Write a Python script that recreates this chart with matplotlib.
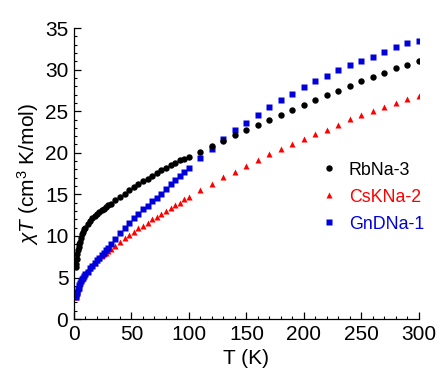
import matplotlib
matplotlib.use("Agg")
import matplotlib.pyplot as plt
from matplotlib.ticker import MultipleLocator

plt.rcParams['font.family'] = ['Liberation Sans', 'DejaVu Sans']
plt.rcParams['mathtext.fontset'] = 'custom'
plt.rcParams['mathtext.rm'] = 'Liberation Sans'
plt.rcParams['mathtext.it'] = 'Liberation Sans:italic'

T = [1.8, 2, 2.5, 3, 3.5, 4, 4.5, 5, 6, 7, 8, 9, 10, 12, 14, 16, 18, 20, 22, 24, 26, 28, 30,
     32, 36, 40, 44, 48, 52, 56, 60, 64, 68, 72, 76, 80, 84, 88, 92, 96, 100,
     110, 120, 130, 140, 150, 160, 170, 180, 190, 200, 210, 220, 230, 240,
     250, 260, 270, 280, 290, 300]

rbna3 = [6.3, 6.6, 7.2, 7.8, 8.3, 8.7, 9.0, 9.3, 9.8, 10.2, 10.5, 10.8, 11.0, 11.4, 11.8, 12.1,
         12.4, 12.6, 12.9, 13.1, 13.3, 13.5, 13.7,
         13.9, 14.3, 14.7, 15.1, 15.5, 15.9, 16.2, 16.6, 16.9, 17.2, 17.6,
         17.9, 18.2, 18.5, 18.8, 19.1, 19.3, 19.5,
         20.1, 20.8, 21.4, 22.1, 22.7, 23.4, 24.0, 24.6, 25.2, 25.7, 26.4,
         26.9, 27.4, 28.0, 28.6, 29.1, 29.6, 30.2, 30.6, 31.0]

cskna2 = [2.7, 2.9, 3.2, 3.4, 3.7, 3.9, 4.2, 4.4, 4.7, 5.0, 5.2, 5.4, 5.6, 5.9, 6.2, 6.5, 6.8,
          7.1, 7.3, 7.6, 7.8, 8.0, 8.2,
          8.4, 8.8, 9.3, 9.7, 10.1, 10.5, 10.9, 11.2, 11.6, 12.0, 12.3, 12.7,
          13.0, 13.4, 13.7, 14.0, 14.4, 14.7,
          15.5, 16.3, 17.1, 17.7, 18.4, 19.1, 19.9, 20.5, 21.1, 21.7, 22.3,
          22.8, 23.4, 24.1, 24.5, 25.0, 25.5, 26.0, 26.5, 26.8]

gndna1 = [2.7, 2.9, 3.1, 3.3, 3.6, 3.8, 4.1, 4.3, 4.6, 4.8, 5.0, 5.2, 5.4, 5.7, 6.1, 6.4, 6.8,
          7.1, 7.4, 7.7, 8.0, 8.3, 8.6,
          9.0, 9.6, 10.3, 11.0, 11.6, 12.2, 12.7, 13.2, 13.6, 14.2, 14.6,
          15.1, 15.6, 16.2, 16.7, 17.2, 17.7, 18.2,
          19.4, 20.5, 21.6, 22.7, 23.6, 24.6, 25.5, 26.4, 27.1, 27.9, 28.6,
          29.2, 29.9, 30.6, 31.0, 31.5, 32.1, 32.7, 33.2, 33.4]

labels = ["RbNa-3", "CsKNa-2", "GnDNa-1"]
colors = ["black", "red", "#0000dd"]

fig = plt.figure(figsize=(4.4, 3.79), dpi=100)
ax = fig.add_axes([0.168, 0.158, 0.784, 0.768])

ax.plot(T, rbna3, 'o', color=colors[0], ms=4.6, mec='none', label=labels[0], zorder=3)
ax.plot(T, cskna2, '^', color=colors[1], ms=5, mec='none', label=labels[1], zorder=2)
ax.plot(T, gndna1, 's', color=colors[2], ms=5, mec='none', label=labels[2], zorder=2)

ax.set_xlim(0, 300)
ax.set_ylim(0, 35)
ax.xaxis.set_major_locator(MultipleLocator(50))
ax.xaxis.set_minor_locator(MultipleLocator(10))
ax.yaxis.set_major_locator(MultipleLocator(5))
ax.yaxis.set_minor_locator(MultipleLocator(1))
for s in ['top', 'right']:
    ax.spines[s].set_visible(False)
for s in ['left', 'bottom']:
    ax.spines[s].set_linewidth(0.9)
ax.tick_params(which='major', direction='in', length=5, width=0.9, labelsize=15, pad=4)
ax.tick_params(which='minor', direction='in', length=2.5, width=0.8)

ax.set_xlabel('T (K)', fontsize=15, labelpad=4)
ax.set_ylabel(r'$\chi T$ (cm$^3$ K/mol)', fontsize=15, labelpad=3)

leg = ax.legend(loc='center left', bbox_to_anchor=(0.713, 0.419), frameon=False,
                fontsize=12.8, handlelength=1.0, handletextpad=0.63,
                labelspacing=0.56, borderpad=0, borderaxespad=0, markerscale=1.0)
for txt, c in zip(leg.get_texts(), colors):
    txt.set_color(c)

fig.savefig("out.png", dpi=100)
